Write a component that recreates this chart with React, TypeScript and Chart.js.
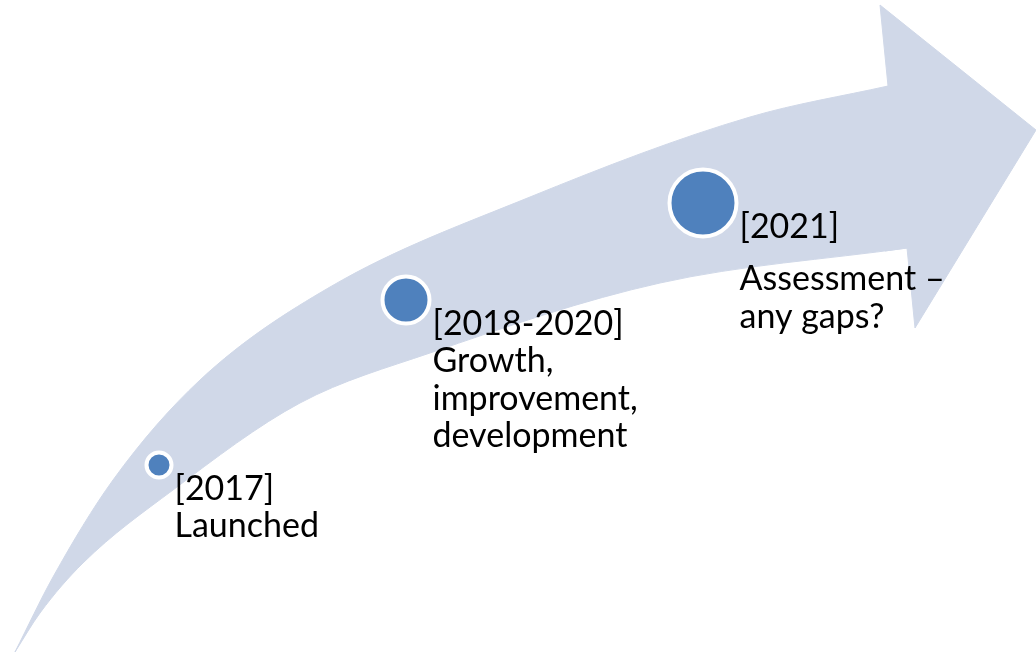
import React, { useEffect, useRef } from "react";
import { Chart, registerables } from "chart.js";

Chart.register(...registerables);

// Diagram units: x to the right, y downward (0..1036, 0..653)
const upperEdgeX = [15, 53, 113, 200, 330, 530, 750, 888];
const upperEdgeY = [652, 577, 480, 380, 287, 197, 117, 86];
const lowerEdgeX = [15, 40, 83, 173, 300, 430, 660, 907];
const lowerEdgeY = [652, 613, 563, 490, 403, 353, 283, 248];
const headX = [888, 880, 1036, 915, 907, 885, 885];
const headY = [86, 5, 130, 328, 248, 251, 87];

const milestoneX = [159, 406, 703];
const milestoneY = [465, 300, 203];
const milestoneR = [12.5, 23.5, 33.5];
const milestoneTitles = ["[2017]", "[2018-2020]", "[2021]"];
const milestoneNotes = [
  ["Launched"],
  ["Growth,", "improvement,", "development"],
  ["Assessment –", "any gaps?"],
];
const noteGap = [0, 0, 15];

const BAND = "#D0D8E8";
const DOT = "#4F81BD";
const FONT_SIZE = 34;
const LINE_H = 37.5;

const labelPlugin = {
  id: "milestoneLabels",
  afterDatasetsDraw(chart: any) {
    const meta = chart.getDatasetMeta(0);
    const ctx = chart.ctx as CanvasRenderingContext2D;
    ctx.save();
    ctx.fillStyle = "#000000";
    ctx.font = `${FONT_SIZE}px Lato, "Open Sans", sans-serif`;
    ctx.textBaseline = "alphabetic";
    ctx.textAlign = "left";
    meta.data.forEach((el: any, i: number) => {
      const x = el.x + milestoneR[i] + 3;
      let y = el.y + 34.5;
      ctx.fillText(milestoneTitles[i], x, y);
      y += LINE_H + noteGap[i];
      milestoneNotes[i].forEach((line) => {
        ctx.fillText(line, x, y);
        y += LINE_H;
      });
    });
    ctx.restore();
  },
};

export default function App() {
  const canvasRef = useRef<HTMLCanvasElement | null>(null);

  useEffect(() => {
    document.body.style.margin = "0";
    const canvas = canvasRef.current;
    if (!canvas) return;
    const toPts = (xs: number[], ys: number[]) => xs.map((x, i) => ({ x, y: ys[i] }));

    const chart = new Chart(canvas, {
      type: "scatter",
      data: {
        datasets: [
          {
            type: "bubble",
            label: "milestones",
            data: milestoneX.map((x, i) => ({ x, y: milestoneY[i], r: milestoneR[i] })),
            backgroundColor: DOT,
            borderColor: "#FFFFFF",
            borderWidth: 4,
            order: 0,
          } as any,
          {
            type: "line",
            label: "upper",
            data: toPts(upperEdgeX, upperEdgeY),
            showLine: true,
            pointRadius: 0,
            borderColor: BAND,
            borderWidth: 1,
            backgroundColor: BAND,
            cubicInterpolationMode: "monotone",
            fill: "+1",
            order: 2,
          } as any,
          {
            type: "line",
            label: "lower",
            data: toPts(lowerEdgeX, lowerEdgeY),
            showLine: true,
            pointRadius: 0,
            borderColor: BAND,
            borderWidth: 1,
            backgroundColor: BAND,
            cubicInterpolationMode: "monotone",
            fill: false,
            order: 3,
          } as any,
          {
            type: "line",
            label: "head",
            data: toPts(headX, headY),
            showLine: true,
            pointRadius: 0,
            borderColor: BAND,
            borderWidth: 1,
            backgroundColor: BAND,
            tension: 0,
            fill: "shape",
            order: 1,
          } as any,
        ],
      },
      options: {
        animation: false,
        responsive: true,
        maintainAspectRatio: false,
        events: [],
        layout: { padding: 0, autoPadding: false },
        scales: {
          x: { type: "linear", min: 0, max: 1036, display: false },
          y: { type: "linear", min: 0, max: 653, reverse: true, display: false },
        },
        plugins: {
          legend: { display: false },
          tooltip: { enabled: false },
        },
      },
      plugins: [labelPlugin],
    });
    return () => chart.destroy();
  }, []);

  return (
    <div style={{ width: 1036, height: 653, position: "relative", background: "#FFFFFF" }}>
      <canvas ref={canvasRef} />
    </div>
  );
}
